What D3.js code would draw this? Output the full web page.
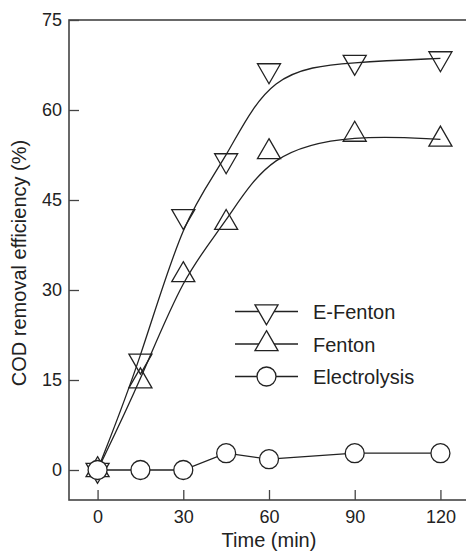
<!DOCTYPE html>
<html>
<head>
<meta charset="utf-8">
<script src="https://cdn.jsdelivr.net/npm/d3@7"></script>
<style>
  body { margin: 0; background: #fff; }
  svg { display: block; font-family: "Liberation Sans", Arial, sans-serif; }
</style>
</head>
<body>
<div id="chart"></div>
<script>
// data
var times = [0, 15, 30, 45, 60, 90, 120];
var eFenton = [0, 18.2, 42.3, 51.6, 66.6, 68, 68.6];
var fenton = [0, 14.8, 32.5, 41.2, 53, 55.9, 55.1];
var electrolysis = [0, 0, 0, 2.8, 1.8, 2.8, 2.8];
var xTicks = [0, 30, 60, 90, 120];
var yTicks = [0, 15, 30, 45, 60, 75];
var seriesNames = ["E-Fenton", "Fenton", "Electrolysis"];

var width = 466, height = 551;
var margin = {top: 20, right: -3, bottom: 51, left: 69};

var svg = d3.select("#chart").append("svg")
  .attr("width", width)
  .attr("height", height);

var x = d3.scaleLinear()
  .domain([-10, 130])
  .range([margin.left, width - margin.right]);

var y = d3.scaleLinear()
  .domain([-5, 75])
  .range([height - margin.bottom, margin.top]);

var ink = "#222";

// frame
svg.append("rect")
  .attr("x", x(-10))
  .attr("y", y(75))
  .attr("width", x(130) - x(-10))
  .attr("height", y(-5) - y(75))
  .attr("fill", "none")
  .attr("stroke", "#444")
  .attr("stroke-width", 1.6);

// axes, ticks pointing in
var xAxis = d3.axisBottom(x).tickValues(xTicks).tickSize(-10).tickPadding(10.5);
var yAxis = d3.axisLeft(y).tickValues(yTicks).tickSize(-10).tickPadding(7);

svg.append("g")
  .attr("transform", `translate(0,${y(-5)})`)
  .call(xAxis)
  .call(g => g.select(".domain").remove())
  .call(g => g.selectAll("line").attr("stroke", "#444").attr("stroke-width", 1.3))
  .call(g => g.selectAll("text").attr("font-size", 18).attr("fill", ink).attr("font-family", null));

svg.append("g")
  .attr("transform", `translate(${x(-10)},0)`)
  .call(yAxis)
  .call(g => g.select(".domain").remove())
  .call(g => g.selectAll("line").attr("stroke", "#444").attr("stroke-width", 1.3))
  .call(g => g.selectAll("text").attr("font-size", 18).attr("fill", ink).attr("font-family", null));

// axis titles
svg.append("text")
  .attr("x", (x(-10) + x(130)) / 2)
  .attr("y", 547)
  .attr("text-anchor", "middle")
  .attr("font-size", 20)
  .attr("fill", ink)
  .text("Time (min)");

svg.append("text")
  .attr("transform", `translate(26,${(y(-5) + y(75)) / 2 + 3}) rotate(-90)`)
  .attr("text-anchor", "middle")
  .attr("font-size", 20)
  .attr("fill", ink)
  .text("COD removal efficiency (%)");

var toPoints = vals => times.map((t, i) => [t, vals[i]]);

var smooth = d3.line()
  .x(d => x(d[0]))
  .y(d => y(d[1]))
  .curve(d3.curveBasis);

var straight = d3.line()
  .x(d => x(d[0]))
  .y(d => y(d[1]));

var plot = svg.append("g");

plot.append("path")
  .attr("d", smooth(toPoints(eFenton)))
  .attr("fill", "none").attr("stroke", ink).attr("stroke-width", 1.3);

plot.append("path")
  .attr("d", smooth(toPoints(fenton)))
  .attr("fill", "none").attr("stroke", ink).attr("stroke-width", 1.3);

plot.append("path")
  .attr("d", straight(toPoints(electrolysis)))
  .attr("fill", "none").attr("stroke", ink).attr("stroke-width", 1.3);

var tri = d3.symbol().type(d3.symbolTriangle).size(230);

// down triangles
plot.selectAll(".efen")
  .data(toPoints(eFenton))
  .join("path")
  .attr("class", "efen")
  .attr("d", tri)
  .attr("transform", d => `translate(${x(d[0])},${y(d[1])}) rotate(180)`)
  .attr("fill", "none").attr("stroke", ink).attr("stroke-width", 1.3);

// up triangles
plot.selectAll(".fen")
  .data(toPoints(fenton))
  .join("path")
  .attr("class", "fen")
  .attr("d", tri)
  .attr("transform", d => `translate(${x(d[0])},${y(d[1])})`)
  .attr("fill", "none").attr("stroke", ink).attr("stroke-width", 1.3);

plot.selectAll(".elec")
  .data(toPoints(electrolysis))
  .join("circle")
  .attr("class", "elec")
  .attr("cx", d => x(d[0]))
  .attr("cy", d => y(d[1]))
  .attr("r", 9.5)
  .attr("fill", "#fff").attr("stroke", ink).attr("stroke-width", 1.3);

// legend
var legend = svg.append("g").attr("transform", "translate(235,311.5)");
var rowGap = 32.5;

seriesNames.forEach((name, i) => {
  var row = legend.append("g").attr("transform", `translate(0,${i * rowGap})`);
  row.append("line")
    .attr("x1", 0).attr("x2", 63)
    .attr("stroke", ink).attr("stroke-width", 1.3);
  if (i < 2) {
    row.append("path")
      .attr("d", tri)
      .attr("transform", `translate(31.5,0)${i == 0 ? " rotate(180)" : ""}`)
      .attr("fill", "#fff").attr("stroke", ink).attr("stroke-width", 1.3);
  } else {
    row.append("circle")
      .attr("cx", 31.5).attr("r", 9.5)
      .attr("fill", "#fff").attr("stroke", ink).attr("stroke-width", 1.3);
  }
  row.append("text")
    .attr("x", 78)
    .attr("y", 7.5)
    .attr("font-size", 20)
    .attr("fill", ink)
    .text(name);
});
</script>
</body>
</html>
